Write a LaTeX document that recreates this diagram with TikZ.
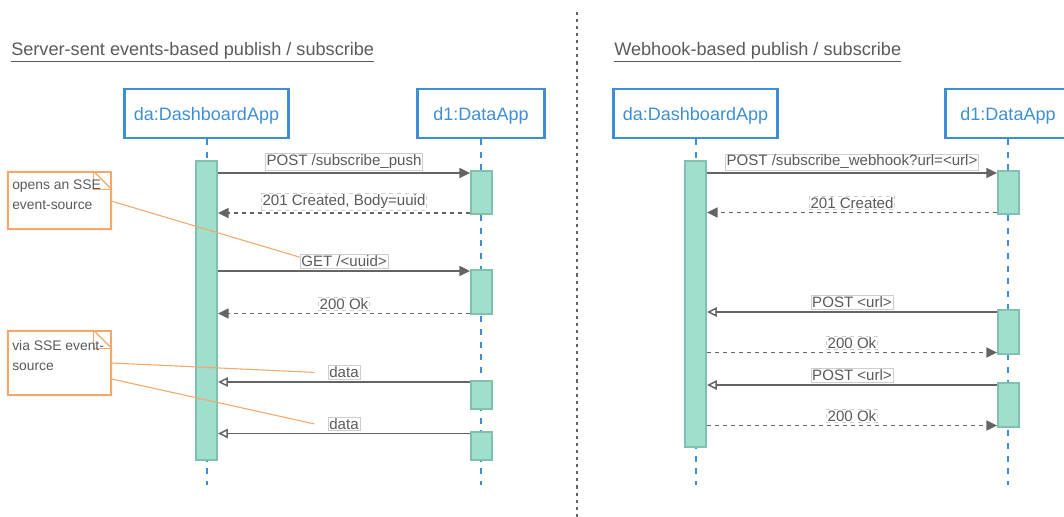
\documentclass[tikz,border=0pt]{standalone}
\usepackage{fontspec}
\setmainfont{Liberation Sans}
\usetikzlibrary{arrows.meta,fit}

\definecolor{lifeblue}{RGB}{62,142,214}
\definecolor{actfill}{RGB}{160,222,206}
\definecolor{actline}{RGB}{128,192,174}
\definecolor{msggray}{RGB}{100,100,100}
\definecolor{txtgray}{RGB}{90,90,90}
\definecolor{notecol}{RGB}{242,168,106}
\definecolor{lblline}{RGB}{205,205,205}

\tikzset{
  obj/.style={draw=lifeblue, line width=1.9pt, text=lifeblue, minimum height=36.4pt,
    text depth=0pt, font=\fontsize{13.5}{16}\selectfont},
  lifeline/.style={draw=lifeblue, line width=1.5pt, dash pattern=on 4.5pt off 5pt},
  act/.style={draw=actline, fill=actfill, line width=1.4pt, inner sep=0pt},
  msg/.style={draw=msggray, line width=1.1pt, -{Triangle[length=8pt,width=7.5pt]}},
  reply/.style={msg, dash pattern=on 3pt off 3pt},
  async/.style={draw=msggray, line width=1.1pt, -{Triangle[open,length=7.5pt,width=7pt]}},
  lbl/.style={draw=lblline, fill=white, text=txtgray, line width=0.5pt,
    inner xsep=1pt, inner ysep=0.8pt, font=\fontsize{11.3}{13}\selectfont},
  note/.style={draw=notecol, line width=0.9pt, inner sep=0pt},
  notelink/.style={draw=notecol, line width=0.8pt},
  notetext/.style={text=txtgray, align=left, inner sep=0pt, font=\fontsize{10.4}{15}\selectfont},
  title/.style={text=txtgray, inner sep=0pt, font=\fontsize{13.6}{16}\selectfont},
  sep/.style={draw=msggray, line width=0.9pt, dash pattern=on 2.3pt off 3pt}
}

\begin{document}
\begin{tikzpicture}[x=0.75pt, y=-0.75pt]
\useasboundingbox (0,0) rectangle (1064,517);
\clip (0,0) rectangle (1064,517);

\draw[sep] (577,12) -- (577,517);

% server-sent events
\node[title, anchor=base west] (t1) at (11,56) {\underline{Server-sent events-based publish / subscribe}};
\node[obj, minimum width=123pt] (la) at (206.5,113.5) {da:DashboardApp};
\node[obj, minimum width=95pt] (lb) at (481,113.5) {d1:DataApp};
\foreach \o in {la,lb}
    \draw[lifeline] (\o.south) -- (\o.south |- 0,485);
\node[act, fit={(196,161) (217,460)}] (lact) {};
\foreach \a/\b [count=\i] in {171/214, 270/314, 381/409, 432/460}
    \node[act, fit={(471,\a) (492,\b)}] (lb\i) {};

\draw[msg] (lact.east |- 0,173) -- (lb1.west |- 0,173)
    node[lbl, midway, above=2pt] (lpost) {POST /subscribe\_push};
\draw[reply] (lb1.west |- 0,213) -- (lact.east |- 0,213)
    node[lbl, midway, above=2pt] (lcreated) {201 Created, Body=uuid};
\draw[msg] (lact.east |- 0,271) -- (lb2.west |- 0,271)
    node[lbl, midway, above=2pt] (lget) {GET /<uuid>};
\draw[reply] (lb2.west |- 0,313.5) -- (lact.east |- 0,313.5)
    node[lbl, midway, above=2pt] (lok) {200 Ok};
\draw[async] (lb3.west |- 0,382) -- (lact.east |- 0,382)
    node[lbl, midway, above=2pt] (ldata1) {data};
\draw[async] (lb4.west |- 0,433.5) -- (lact.east |- 0,433.5)
    node[lbl, midway, above=2pt] (ldata2) {data};

% notes
\node[note, fit={(8,172) (111,229)}] (n1) {};
\draw[note] (n1.north west) -- ([xshift=-13.5pt]n1.north east) -- ([yshift=-13.5pt]n1.north east)
    -- (n1.south east) -- (n1.south west) -- cycle;
\draw[note] ([xshift=-13.5pt]n1.north east) -- ([xshift=-13.5pt,yshift=-13.5pt]n1.north east)
    -- ([yshift=-13.5pt]n1.north east);
\node[notetext, anchor=north west] (n1t) at (12,180) {opens an SSE\\event-source};

\node[note, fit={(8,331) (111,395)}] (n2) {};
\draw[note] (n2.north west) -- ([xshift=-13.5pt]n2.north east) -- ([yshift=-13.5pt]n2.north east)
    -- (n2.south east) -- (n2.south west) -- cycle;
\draw[note] ([xshift=-13.5pt]n2.north east) -- ([xshift=-13.5pt,yshift=-13.5pt]n2.north east)
    -- ([yshift=-13.5pt]n2.north east);
\node[notetext, anchor=north west] (n2t) at (12,340) {via SSE event-\\source};

\draw[notelink] ([yshift=-0.5pt]n1.east) -- ([yshift=-2pt]lget.north west);
\draw[notelink] (n2.east) -- ([xshift=-10pt]ldata1.west);
\draw[notelink] ([yshift=-12pt]n2.east) -- ([xshift=-10pt]ldata2.west);

% webhook
\node[title, anchor=base west] (t2) at (614,56) {\underline{Webhook-based publish / subscribe}};
\node[obj, minimum width=123pt] (ra) at (695.5,113.5) {da:DashboardApp};
\node[obj, minimum width=94pt] (rb) at (1008,113.5) {d1:DataApp};
\foreach \o in {ra,rb}
    \draw[lifeline] (\o.south) -- (\o.south |- 0,485);
\node[act, fit={(685,161) (706,447)}] (ract) {};
\foreach \a/\b [count=\i] in {171/214, 310/354, 383/427}
    \node[act, fit={(998,\a) (1019,\b)}] (rb\i) {};

\draw[msg] (ract.east |- 0,173) -- (rb1.west |- 0,173)
    node[lbl, midway, above=2pt] (rpost) {POST /subscribe\_webhook?url=<url>};
\draw[reply] (rb1.west |- 0,212.5) -- (ract.east |- 0,212.5)
    node[lbl, midway, above=2pt] (rcreated) {201 Created};
\draw[async] (rb2.west |- 0,312) -- (ract.east |- 0,312)
    node[lbl, midway, above=2pt] (rcall1) {POST <url>};
\draw[reply] (ract.east |- 0,352.5) -- (rb2.west |- 0,352.5)
    node[lbl, midway, above=2pt] (rok1) {200 Ok};
\draw[async] (rb3.west |- 0,385) -- (ract.east |- 0,385)
    node[lbl, midway, above=2pt] (rcall2) {POST <url>};
\draw[reply] (ract.east |- 0,425.5) -- (rb3.west |- 0,425.5)
    node[lbl, midway, above=2pt] (rok2) {200 Ok};
\end{tikzpicture}
\end{document}
